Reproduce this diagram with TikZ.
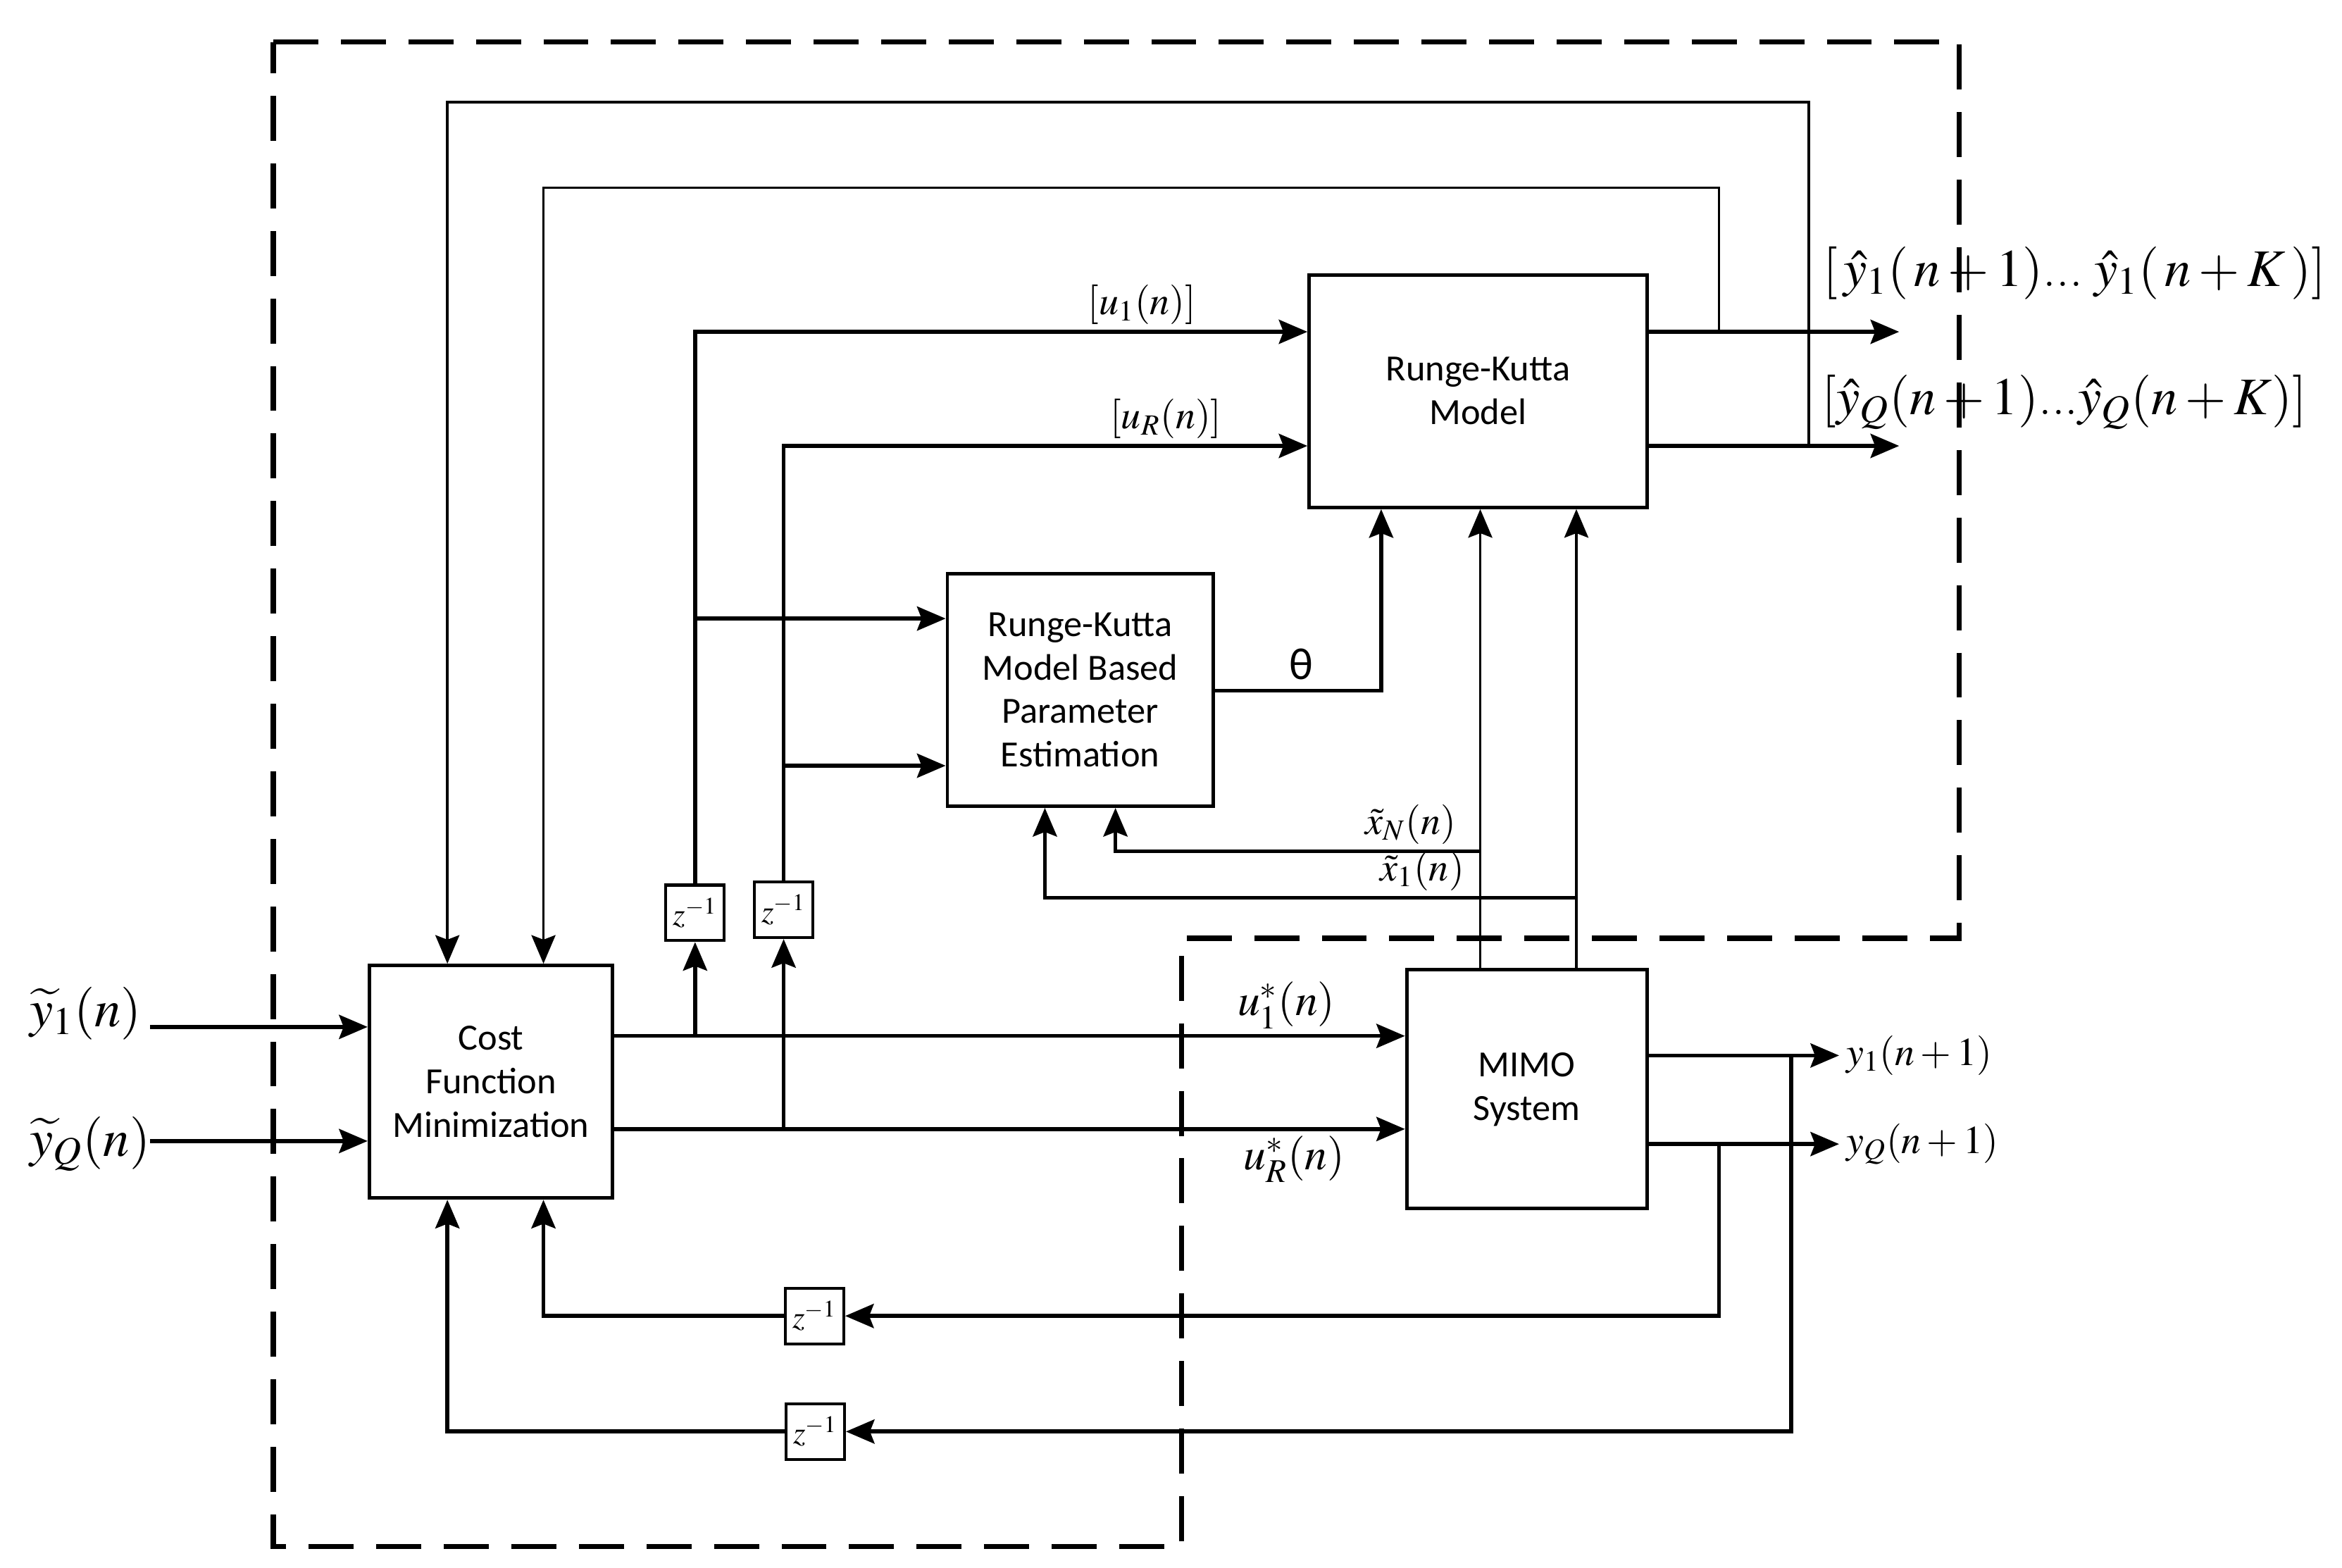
\documentclass[tikz,border=0pt]{standalone}
\usepackage{mathptmx}
\usepackage[no-math]{fontspec}
\setsansfont{Carlito}
\usetikzlibrary{arrows.meta, calc, positioning}

\begin{document}
\begin{tikzpicture}[
	x=0.02cm, y=-0.02cm,
	line width=1.5pt,
	block/.style={draw, line width=1.3pt, align=center, inner sep=0pt,
		font=\sffamily\fontsize{14}{16.5}\selectfont},
	delay/.style={draw, line width=1.1pt, minimum width=0.78cm, minimum height=0.74cm,
		inner sep=0pt, font=\fontsize{12}{12}\selectfont},
	arr/.style={-{Stealth[length=0.38cm, width=0.32cm, inset=0.06cm]}},
	thinline/.style={line width=1pt},
	biglabel/.style={font=\fontsize{20}{24}\selectfont, inner sep=2pt},
	midlabel/.style={font=\fontsize{17}{20}\selectfont, inner sep=2pt},
	smalllabel/.style={font=\fontsize{15}{18}\selectfont, inner sep=2pt}
	]

\useasboundingbox (0,0) rectangle (1560,1044);

% dashed frame
\draw[line width=2pt, dash pattern=on 0.6cm off 0.3cm]
	(182,28) -- (1305,28) -- (1305,625) -- (787,625) -- (787,1030) -- (182,1030) -- cycle;

% blocks
\node[block, minimum width=3.24cm, minimum height=3.1cm] (cfm) at (327,720.5) {Cost\\Function\\Minimization};
\node[block, minimum width=4.5cm, minimum height=3.1cm] (rkm) at (984.5,260.5) {Runge-Kutta\\Model};
\node[block, minimum width=3.54cm, minimum height=3.1cm] (rkpe) at (719.5,459.5) {Runge-Kutta\\Model Based\\Parameter\\Estimation};
\node[block, minimum width=3.2cm, minimum height=3.18cm] (mimo) at (1017,725.5) {MIMO\\System};

\node[delay] (za) at (463,608) {$z^{-1}$};
\node[delay] (zb) at (522,606) {$z^{-1}$};
\node[delay] (zc) at (542.5,876.5) {$z^{-1}$};
\node[delay] (zd) at (543,953.5) {$z^{-1}$};

% rows and columns of the wiring
\coordinate (rU1) at (0,690);
\coordinate (rUR) at (0,752);
\coordinate (rIn1) at (0,684);
\coordinate (rInQ) at (0,760);
\coordinate (rC1) at (0,221);
\coordinate (rCR) at (0,297);
\coordinate (rA) at (0,412);
\coordinate (rB) at (0,510);
\coordinate (rTh) at (0,460);
\coordinate (rXN) at (0,567);
\coordinate (rX1) at (0,598);
\coordinate (rY1) at (0,703);
\coordinate (rYQ) at (0,762);
\coordinate (rT1) at (0,125);
\coordinate (rT2) at (0,68);
\coordinate (rF1) at (0,876.5);
\coordinate (rF2) at (0,953.5);
\coordinate (cL1) at (298,0);
\coordinate (cL2) at (362,0);
\coordinate (cTh) at (920,0);
\coordinate (cS1) at (986,0);
\coordinate (cS2) at (1050,0);
\coordinate (cO1) at (1145,0);
\coordinate (cO2) at (1205,0);
\coordinate (cM2) at (1193,0);
\coordinate (cE1) at (696,0);
\coordinate (cE2) at (743,0);
\coordinate (cIn) at (100,0);
\coordinate (cOutR) at (1265,0);
\coordinate (cOutM) at (1225,0);

% reference inputs
\node[biglabel] (yin1) at (57,675) {$\widetilde{y}_1(n)$};
\node[biglabel] (yinQ) at (60,762) {$\widetilde{y}_Q(n)$};
\draw[arr] (cIn |- rIn1) -- (cfm.west |- rIn1);
\draw[arr] (cIn |- rInQ) -- (cfm.west |- rInQ);

% optimal controls to the plant
\draw[arr] (cfm.east |- rU1) -- node[midlabel, pos=0.85, above] (lu1) {$u_1^*(n)$} (mimo.west |- rU1);
\draw[arr] (cfm.east |- rUR) -- node[midlabel, pos=0.86, below] (luR) {$u_R^*(n)$} (mimo.west |- rUR);

% delayed controls
\draw[arr] (za |- rU1) -- (za.south);
\draw[arr] (zb |- rUR) -- (zb.south);
\draw[arr] (za.north) -- (za |- rC1) -- node[smalllabel, pos=0.73, above] (lc1) {$[u_1(n)]$} (rkm.west |- rC1);
\draw[arr] (zb.north) -- (zb |- rCR) -- node[smalllabel, pos=0.73, above] (lcR) {$[u_R(n)]$} (rkm.west |- rCR);
\draw[arr] (za |- rA) -- (rkpe.west |- rA);
\draw[arr] (zb |- rB) -- (rkpe.west |- rB);

% parameters
\draw[arr] (rkpe.east |- rTh) -- node[pos=0.52, above, font=\sffamily\fontsize{17}{20}\selectfont] (lth) {θ}
	(cTh |- rTh) -- (cTh |- rkm.south);

% measured states
\draw[arr, thinline] (cS1 |- mimo.north) -- (cS1 |- rkm.south);
\draw[arr, thinline] (cS2 |- mimo.north) -- (cS2 |- rkm.south);
\draw[arr] (cS1 |- rXN) -- node[smalllabel, pos=0.19, above] (lxN) {$\tilde{x}_N(n)$}
	(cE2 |- rXN) -- (cE2 |- rkpe.south);
\draw[arr] (cS2 |- rX1) -- node[smalllabel, pos=0.29, above] (lx1) {$\tilde{x}_1(n)$}
	(cE1 |- rX1) -- (cE1 |- rkpe.south);

% predictions
\draw[arr] (rkm.east |- rC1) -- (cOutR |- rC1);
\draw[arr] (rkm.east |- rCR) -- (cOutR |- rCR);
\node[biglabel] (yh1) at (1382,182) {$[\,\hat{y}_1(\,n+1)\mbox{...}\;\hat{y}_1(\,n+K\,)]$};
\node[biglabel] (yhQ) at (1375,268) {$[\hat{y}_Q(n+1)\mbox{...}\hat{y}_Q(n+K)]$};
\draw[arr, thinline] (cO1 |- rC1) -- (cO1 |- rT1) -- (cL2 |- rT1) -- (cL2 |- cfm.north);
\draw[arr, thinline] (cO2 |- rCR) -- (cO2 |- rT2) -- (cL1 |- rT2) -- (cL1 |- cfm.north);

% plant outputs
\draw[arr] (mimo.east |- rY1) -- (cOutM |- rY1) node[smalllabel, right] (ly1) {$y_1(n+1)$};
\draw[arr] (mimo.east |- rYQ) -- (cOutM |- rYQ) node[smalllabel, right] (lyQ) {$y_Q(n+1)$};
\draw[arr] (cO1 |- rYQ) -- (cO1 |- rF1) -- (zc.east);
\draw[arr] (zc.west) -- (cL2 |- rF1) -- (cL2 |- cfm.south);
\draw[arr] (cM2 |- rY1) -- (cM2 |- rF2) -- (zd.east);
\draw[arr] (zd.west) -- (cL1 |- rF2) -- (cL1 |- cfm.south);
\end{tikzpicture}
\end{document}
